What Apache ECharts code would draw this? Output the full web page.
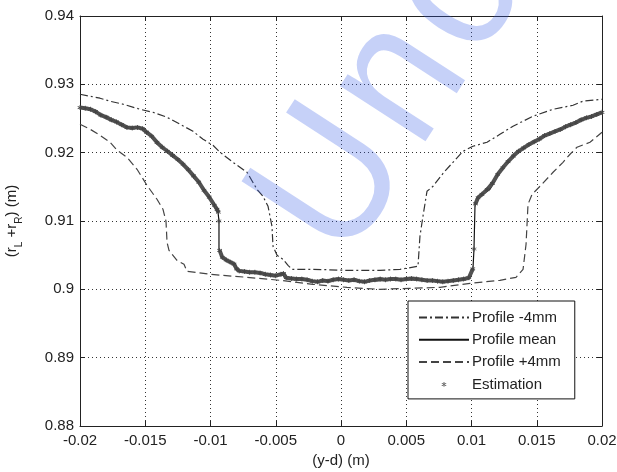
<!DOCTYPE html>
<html>
<head>
<meta charset="utf-8">
<script src="https://cdn.jsdelivr.net/npm/echarts@6/dist/echarts.min.js"></script>
<style>
  html, body { margin: 0; padding: 0; background: #fff; }
  #chart { width: 617px; height: 472px; }
</style>
</head>
<body>
<div id="chart"></div>
<script>
// Axis ticks
const xTickLabels = ['-0.02', '-0.015', '-0.01', '-0.005', '0', '0.005', '0.01', '0.015', '0.02'];
const yTickLabels = ['0.88', '0.89', '0.9', '0.91', '0.92', '0.93', '0.94'];
const xMin = -0.02, xMax = 0.02, xStep = 0.005;
const yMin = 0.88, yMax = 0.94, yStep = 0.01;

// Profile -4mm
const minusX = [-0.02, -0.01923, -0.01847, -0.0177, -0.0167, -0.0154, -0.01441, -0.01333, -0.01234, -0.01134,
  -0.01057, -0.00981, -0.00927, -0.00828, -0.0072, -0.00644, -0.00598, -0.00559, -0.00529, -0.00521,
  -0.0049, -0.00444, -0.00406, -0.00375, -0.00215, 0.00046, 0.00299, 0.00452, 0.0059, 0.00605,
  0.00628, 0.00659, 0.00705, 0.00782, 0.00858, 0.00935, 0.01011, 0.01119, 0.01218, 0.01318,
  0.01471, 0.01625, 0.01778, 0.01854, 0.02];
const minusY = [0.92855, 0.92826, 0.92797, 0.92753, 0.92709, 0.92635, 0.92591, 0.92518, 0.92416, 0.92313,
  0.92196, 0.92108, 0.92006, 0.91859, 0.91713, 0.91464, 0.91362, 0.91215, 0.90922, 0.9063,
  0.90498, 0.90439, 0.90351, 0.90293, 0.90293, 0.90278, 0.90278, 0.90293, 0.90337, 0.90776,
  0.91069, 0.91435, 0.91508, 0.91698, 0.91859, 0.9202, 0.92094, 0.92152, 0.92269, 0.92387,
  0.92533, 0.92635, 0.92694, 0.92753, 0.92782];

// Profile mean
const meanX = [-0.02, -0.01923, -0.01847, -0.01716, -0.0164, -0.0154, -0.01487, -0.01387, -0.0131, -0.01234,
  -0.01134, -0.01057, -0.00981, -0.00943, -0.00935, -0.00935, -0.00912, -0.00828, -0.00789, -0.00674,
  -0.0049, -0.00452, -0.00429, -0.00314, -0.00161, 0, 0.002, 0.00452, 0.00705, 0.00835,
  0.00989, 0.01011, 0.01019, 0.01027, 0.01065, 0.01142, 0.01218, 0.01318, 0.01471, 0.01625,
  0.01732, 0.01854, 0.02];
const meanY = [0.9266, 0.92635, 0.92562, 0.92445, 0.92372, 0.92372, 0.92299, 0.92094, 0.92006, 0.91874,
  0.91654, 0.91464, 0.91274, 0.91142, 0.90996, 0.90586, 0.90469, 0.90395, 0.90278, 0.90249,
  0.9019, 0.90234, 0.90161, 0.90146, 0.90117, 0.90146, 0.90117, 0.90146, 0.90132, 0.90117,
  0.90176, 0.90293, 0.90586, 0.91244, 0.91362, 0.91464, 0.91713, 0.91947, 0.92152, 0.92299,
  0.92387, 0.92489, 0.92592];

// Profile +4mm
const plusX = [-0.02, -0.01923, -0.01847, -0.0177, -0.01716, -0.0164, -0.01563, -0.01487, -0.0141, -0.01364,
  -0.01341, -0.01333, -0.01318, -0.01257, -0.01203, -0.0118, -0.01004, -0.0072, -0.00467, -0.00215,
  0.00046, 0.00299, 0.00529, 0.00759, 0.00989, 0.01218, 0.01341, 0.01395, 0.01418, 0.01433,
  0.01464, 0.01525, 0.01625, 0.01701, 0.01755, 0.01808, 0.01908, 0.02];
const plusY = [0.92416, 0.92343, 0.92255, 0.92152, 0.92035, 0.91933, 0.91757, 0.91523, 0.91318, 0.91171,
  0.90996, 0.90688, 0.90571, 0.90425, 0.90366, 0.90264, 0.9022, 0.90176, 0.90132, 0.90073,
  0.90029, 0.9, 0.90015, 0.90029, 0.90088, 0.90132, 0.90176, 0.90293, 0.90659, 0.91244,
  0.91391, 0.91508, 0.91713, 0.91859, 0.91977, 0.92079, 0.92152, 0.92299];

// Estimation (null breaks the trace where the profile drops steeply)
const estX = [-0.02, -0.0196, -0.0192, -0.0188, -0.0184, -0.018, -0.0176, -0.0172, -0.0168, -0.0164,
  -0.016, -0.0156, -0.0152, -0.0149, -0.0145, -0.0141, -0.0137, -0.0133, -0.0129, -0.0125,
  -0.0121, -0.0117, -0.0113, -0.0109, -0.0105, -0.0101, -0.0097, -0.0095, -0.0094, null,
  -0.00935, null, -0.0093, -0.0091, -0.0088, -0.0085, -0.0082, -0.008, -0.0078, -0.0074,
  -0.007, -0.0066, -0.0062, -0.0058, -0.0054, -0.005, -0.0046, -0.0044, -0.0042, -0.0038,
  -0.0034, -0.003, -0.0026, -0.0022, -0.0018, -0.0014, -0.001, -0.0006, -0.0002, 0.0002,
  0.0006, 0.001, 0.0014, 0.0018, 0.0022, 0.0026, 0.003, 0.0034, 0.0038, 0.0042,
  0.0046, 0.005, 0.0054, 0.0058, 0.0062, 0.0066, 0.007, 0.0074, 0.0078, 0.0082,
  0.0086, 0.009, 0.0094, 0.0098, 0.0101, null, 0.0102, null, 0.0103, 0.0105,
  0.0108, 0.0112, 0.0116, 0.012, 0.0124, 0.0128, 0.0132, 0.0136, 0.014, 0.0144,
  0.0148, 0.0152, 0.0156, 0.016, 0.0164, 0.0168, 0.0172, 0.0176, 0.018, 0.0184,
  0.0188, 0.0192, 0.0196, 0.02];
const estY = [0.9266, 0.9265, 0.92635, 0.926, 0.9255, 0.9252, 0.9248, 0.9245, 0.9241, 0.9237,
  0.9236, 0.9237, 0.9235, 0.923, 0.9224, 0.9215, 0.9208, 0.9202, 0.9196, 0.919,
  0.9183, 0.9175, 0.9166, 0.9157, 0.9145, 0.9135, 0.9123, 0.9117, 0.9113, null,
  0.91, null, 0.9057, 0.9047, 0.9043, 0.904, 0.9037, 0.903, 0.9027, 0.9026,
  0.9025, 0.9025, 0.9024, 0.9022, 0.9021, 0.902, 0.9022, 0.9023, 0.9017, 0.9016,
  0.9015, 0.9015, 0.9014, 0.9012, 0.9011, 0.9013, 0.9012, 0.9014, 0.9015, 0.9014,
  0.9013, 0.9014, 0.9012, 0.9011, 0.9013, 0.9014, 0.9015, 0.9014, 0.9015, 0.9015,
  0.9014, 0.9015, 0.9016, 0.9015, 0.9014, 0.9013, 0.9013, 0.9012, 0.9011, 0.9012,
  0.9013, 0.9014, 0.9015, 0.9017, 0.903, null, 0.9059, null, 0.9125, 0.9134,
  0.9139, 0.9146, 0.9155, 0.9168, 0.9178, 0.9187, 0.9195, 0.9202, 0.9207, 0.9212,
  0.9216, 0.922, 0.9225, 0.9228, 0.9231, 0.9234, 0.9238, 0.9241, 0.9244, 0.9248,
  0.9251, 0.9253, 0.9256, 0.9259];

const pairs = (xs, ys) => xs.map((x, i) => (x === null ? '-' : [x, ys[i]]));

const FONT = '"Liberation Sans", Arial, Helvetica, sans-serif';
const INK = '#222';
// small star used as the estimation marker
const asterisk = 'path://M-0.15,-1L0.15,-1L0.15,1L-0.15,1Z' +
  'M0.791,-0.63L0.941,-0.37L-0.791,0.63L-0.941,0.37Z' +
  'M-0.941,-0.37L-0.791,-0.63L0.941,0.37L0.791,0.63Z';

const xLabel = v => xTickLabels[Math.round((v - xMin) / xStep)] ?? '';
const yLabel = v => yTickLabels[Math.round((v - yMin) / yStep)] ?? '';

const frameAxis = {
  axisLine: { show: true, onZero: false, lineStyle: { color: INK, width: 1 } },
  axisTick: { show: true, inside: true, length: 5, lineStyle: { color: INK } }
};

// Diagonal stamp: letters laid along a rotated baseline
const stampAngle = 57 * Math.PI / 180;
const stampSize = 172;
const stampStretch = 1.12;
const stampOrigin = [357, 272];
const stampLetters = [['U', 0], ['n', 135], ['o', 242]];
const bx = Math.cos(stampAngle), by = -Math.sin(stampAngle);
const lift = 0.3465 * stampSize * stampStretch;
const stamp = stampLetters.map(([ch, s]) => ({
  type: 'text', z: 100, silent: true, rotation: stampAngle, scaleY: stampStretch,
  x: stampOrigin[0] + s * bx - lift * Math.sin(stampAngle),
  y: stampOrigin[1] + s * by - lift * Math.cos(stampAngle),
  style: {
    text: ch, fontSize: stampSize, fontFamily: FONT,
    fill: 'rgba(50, 90, 230, 0.28)', align: 'left', verticalAlign: 'middle'
  }
}));

const chart = echarts.init(document.getElementById('chart'), null, { renderer: 'canvas' });
chart.setOption({
  animation: false,
  backgroundColor: '#fff',
  textStyle: { fontFamily: FONT },
  grid: { left: 80, right: 15, top: 16, bottom: 46, outerBoundsMode: 'none' },
  xAxis: [{
    type: 'value', min: xMin, max: xMax, interval: xStep, position: 'bottom',
    ...frameAxis,
    axisLabel: { formatter: xLabel, color: INK, fontSize: 15, fontFamily: FONT, margin: 7 },
    splitLine: { show: true, lineStyle: { color: '#333', width: 1, type: [1, 3] } },
    name: '(y-d) (m)', nameLocation: 'middle', nameGap: 24,
    nameTextStyle: { color: INK, fontSize: 15, fontFamily: FONT }
  }, {
    type: 'value', min: xMin, max: xMax, interval: xStep, position: 'top',
    ...frameAxis, axisLabel: { show: false }, splitLine: { show: false }
  }],
  yAxis: [{
    type: 'value', min: yMin, max: yMax, interval: yStep, position: 'left',
    ...frameAxis,
    axisLabel: { formatter: yLabel, color: INK, fontSize: 15, fontFamily: FONT, margin: 6 },
    splitLine: { show: true, lineStyle: { color: '#333', width: 1, type: [1, 3] } },
    name: '(r{s|L} +r{s|R}) (m)', nameLocation: 'middle', nameGap: 56, nameRotate: 90,
    nameTextStyle: {
      color: INK, fontSize: 15, fontFamily: FONT, lineHeight: 24,
      rich: { s: { fontSize: 10, fontFamily: FONT, color: INK, lineHeight: 10, verticalAlign: 'bottom' } }
    }
  }, {
    type: 'value', min: yMin, max: yMax, interval: yStep, position: 'right',
    ...frameAxis, axisLabel: { show: false }, splitLine: { show: false }
  }],
  legend: {
    orient: 'vertical', left: 408, top: 301,
    padding: [9, 14, 7, 10],
    itemWidth: 50, itemHeight: 6, itemGap: 7.3,
    borderColor: '#111', borderWidth: 1, borderRadius: 0,
    backgroundColor: '#fff',
    textStyle: { color: INK, fontSize: 15, fontFamily: FONT, padding: [0, 0, 0, -2] },
    data: [
      { name: 'Profile -4mm', itemStyle: { opacity: 0 } },
      { name: 'Profile mean', itemStyle: { opacity: 0 } },
      { name: 'Profile +4mm', itemStyle: { opacity: 0 } },
      { name: 'Estimation', lineStyle: { opacity: 0 } }
    ]
  },
  series: [{
    name: 'Profile -4mm', type: 'line', data: pairs(minusX, minusY),
    symbol: 'none', z: 3,
    lineStyle: { color: '#333', width: 1.2, type: [8, 3, 2, 3] }, itemStyle: { color: '#333' }
  }, {
    name: 'Profile mean', type: 'line', data: pairs(meanX, meanY),
    symbol: 'none', z: 4,
    lineStyle: { color: '#111', width: 1.2 }, itemStyle: { color: '#111' }
  }, {
    name: 'Profile +4mm', type: 'line', data: pairs(plusX, plusY),
    symbol: 'none', z: 3,
    lineStyle: { color: '#444', width: 1.2, type: [8, 4] }, itemStyle: { color: '#444' }
  }, {
    name: 'Estimation', type: 'line', data: pairs(estX, estY),
    connectNulls: false, showSymbol: true, symbol: asterisk, symbolSize: 5, z: 5,
    lineStyle: { color: '#525252', width: 4 },
    itemStyle: { color: '#444', borderWidth: 0 }
  }],
  graphic: stamp
});
</script>
</body>
</html>
